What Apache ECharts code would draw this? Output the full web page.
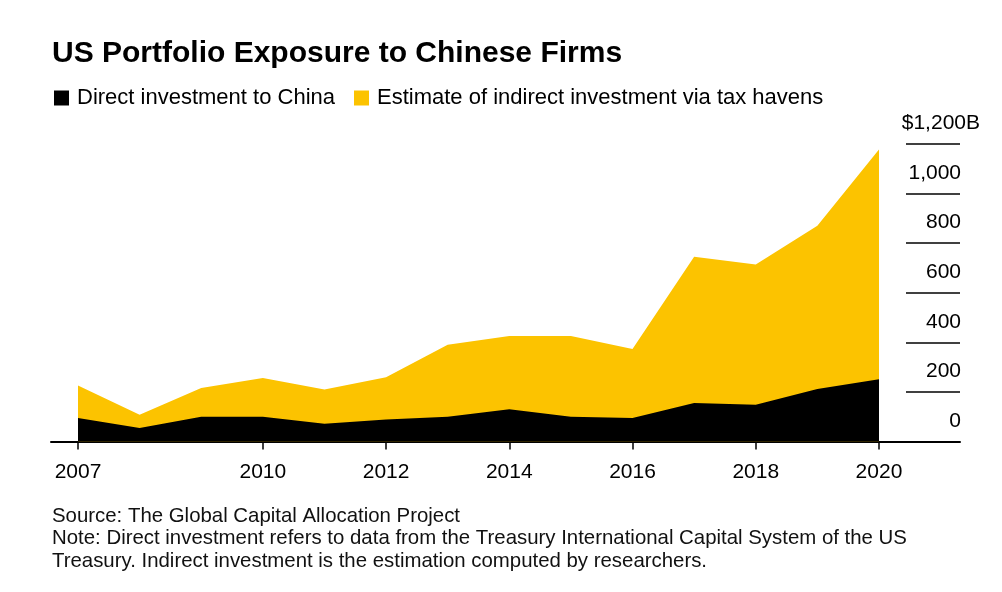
<!DOCTYPE html>
<html>
<head>
<meta charset="utf-8">
<script src="https://cdn.jsdelivr.net/npm/echarts@6/dist/echarts.min.js"></script>
<style>
    html, body { margin: 0; padding: 0; background: #FFFFFF; }
    #chart { width: 1002px; height: 592px; }
</style>
</head>
<body>
<div id="chart"></div>
<script>
const years = [2007, 2008, 2009, 2010, 2011, 2012, 2013, 2014, 2015, 2016, 2017, 2018, 2019, 2020];
const directInvestment = [95, 54, 100, 100, 72, 89, 100, 130, 100, 95, 155, 148, 212, 251];
const indirectInvestment = [131, 54, 116, 156, 138, 170, 290, 296, 326, 278, 590, 566, 658, 927];
const yearTicks = [2007, 2010, 2012, 2014, 2016, 2018, 2020];

const font = "'Liberation Sans', Arial, sans-serif";
const BLACK = '#000000';
const YELLOW = '#FCC300';

const fmtValue = (v) => v.toLocaleString('en-US');

const chart = echarts.init(document.getElementById('chart'), null, { renderer: 'canvas' });

// value x-axis can't stack on y, so the yellow layer is drawn as the running total behind black
const totalExposure = years.map((y, i) => [y, directInvestment[i] + indirectInvestment[i]]);

chart.setOption({
    animation: false,
    backgroundColor: '#FFFFFF',
    textStyle: { fontFamily: font, color: BLACK },
    title: [
        {
            text: 'US Portfolio Exposure to Chinese Firms',
            left: 52, top: 39, padding: 0,
            textStyle: { fontFamily: font, fontSize: 30, fontWeight: 'bold', color: BLACK }
        },
        {
            text: 'Source: The Global Capital Allocation Project\nNote: Direct investment refers to data from the Treasury International Capital System of the US\nTreasury. Indirect investment is the estimation computed by researchers.',
            left: 52, top: 505, padding: 0,
            textStyle: { fontFamily: font, fontSize: 20.4, fontWeight: 'normal', color: '#111111', lineHeight: 22.5 }
        }
    ],
    legend: {
        left: 54, top: 87, padding: 0,
        icon: 'rect',
        itemWidth: 15, itemHeight: 15, itemGap: 19,
        textStyle: { fontFamily: font, fontSize: 22, color: BLACK, padding: [0, 0, 0, 3] },
        data: ['Direct investment to China', 'Estimate of indirect investment via tax havens']
    },
    grid: [
        { left: 51, right: 42, top: 144, bottom: 150.5 },
        { left: 906, right: 42, top: 144, bottom: 150.5 }
    ],
    xAxis: [
        {
            type: 'value', gridIndex: 0,
            min: 2006.562, max: 2021.315,
            splitLine: { show: false },
            axisLine: { show: true, lineStyle: { color: BLACK, width: 2 } },
            axisTick: { show: true, length: 8, customValues: yearTicks, lineStyle: { color: BLACK, width: 1.5 } },
            axisLabel: { customValues: yearTicks, formatter: (v) => String(v), fontFamily: font, fontSize: 21, color: BLACK, margin: 20 }
        },
        {
            type: 'value', gridIndex: 1, min: 0, max: 1, show: false
        }
    ],
    yAxis: [
        {
            type: 'value', gridIndex: 0, min: 0, max: 1200, interval: 200,
            show: false, splitLine: { show: false }
        },
        {
            type: 'value', gridIndex: 1, position: 'right',
            min: 0, max: 1200, interval: 200,
            axisLine: { show: false },
            axisTick: { show: false },
            splitLine: {
                show: true,
                lineStyle: { color: BLACK, width: 1.5 }
            },
            axisLabel: {
                margin: 20,
                align: 'right',
                verticalAlign: 'bottom',
                fontFamily: font, fontSize: 21, color: BLACK,
                padding: [0, 0, 10, 0],
                formatter: (v) => v === 1200 ? '$1,200B' : '{n|' + fmtValue(v) + '}',
                rich: { n: { fontFamily: font, fontSize: 21, color: BLACK, padding: [0, 19, 0, 0] } }
            }
        }
    ],
    series: [
        {
            name: 'Direct investment to China',
            type: 'line',
            xAxisIndex: 0, yAxisIndex: 0,
            data: years.map((y, i) => [y, directInvestment[i]]),
            showSymbol: false,
            lineStyle: { width: 0 },
            itemStyle: { color: BLACK },
            areaStyle: { color: BLACK, opacity: 1 },
            z: 3
        },
        {
            name: 'Estimate of indirect investment via tax havens',
            type: 'line',
            xAxisIndex: 0, yAxisIndex: 0,
            data: totalExposure,
            showSymbol: false,
            lineStyle: { width: 0 },
            itemStyle: { color: YELLOW },
            areaStyle: { color: YELLOW, opacity: 1 },
            z: 2
        }
    ]
});
</script>
</body>
</html>
